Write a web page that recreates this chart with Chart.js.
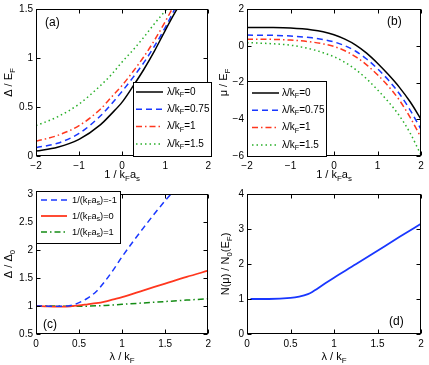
<!DOCTYPE html>
<html>
<head>
<meta charset="utf-8">
<script src="https://cdn.jsdelivr.net/npm/chart.js@4.4.0/dist/chart.umd.min.js"></script>
<style>
  html, body { margin: 0; padding: 0; background: #fff; }
  #page { position: relative; width: 429px; height: 365px; overflow: hidden; }
  canvas { position: absolute; }
</style>
</head>
<body>
<div id="page">
  <canvas id="chartA" width="215" height="185" style="left:0;top:0"></canvas>
  <canvas id="chartB" width="215" height="185" style="left:214px;top:0"></canvas>
  <canvas id="chartC" width="215" height="180" style="left:0;top:185px"></canvas>
  <canvas id="chartD" width="215" height="180" style="left:214px;top:185px"></canvas>
</div>
<script>
// x values for panels (a) and (b): 1/(kF as)
const invKa = [-2, -1.5, -1, -0.5, -0.25, 0, 0.25, 0.5, 0.75, 1, 1.25, 1.5, 1.75, 2];
const lambdas = ["0", "0.75", "1", "1.5"];

// (a) gap / EF
const gapL0   = [0.05, 0.09, 0.17, 0.32, 0.43, 0.55, 0.71, 0.88, 1.07, 1.28, 1.48, 1.66, 1.84, 2.02];
const gapL075 = [0.085, 0.13, 0.23, 0.41, 0.53, 0.66, 0.8, 0.95, 1.12, 1.31, 1.52, 1.7, 1.88, 2.05];
const gapL1   = [0.15, 0.21, 0.31, 0.48, 0.6, 0.72, 0.86, 1.01, 1.18, 1.37, 1.57, 1.75, 1.92, 2.1];
const gapL15  = [0.31, 0.4, 0.53, 0.72, 0.83, 0.96, 1.08, 1.21, 1.35, 1.48, 1.62, 1.76, 1.9, 2.05];

// (b) mu / EF
const muL0   = [1.0, 0.99, 0.96, 0.86, 0.76, 0.6, 0.36, 0.04, -0.4, -0.95, -1.57, -2.25, -3.05, -4.0];
const muL075 = [0.58, 0.57, 0.53, 0.43, 0.34, 0.21, 0.0, -0.3, -0.72, -1.25, -1.87, -2.6, -3.5, -4.55];
const muL1   = [0.36, 0.35, 0.31, 0.2, 0.1, -0.04, -0.27, -0.6, -1.04, -1.58, -2.2, -2.95, -3.9, -5.0];
const muL15  = [0.17, 0.12, 0.03, -0.2, -0.38, -0.6, -0.9, -1.3, -1.8, -2.4, -3.05, -3.8, -4.75, -5.95];

// (c) gap ratio vs lambda/kF
const lamC = [0, 0.1, 0.2, 0.3, 0.4, 0.5, 0.6, 0.7, 0.8, 0.9, 1, 1.25, 1.5, 1.75, 2];
const invKaC = ["-1", "0", "1"];
const ratioBCS = [1, 1, 0.995, 0.995, 1.01, 1.06, 1.14, 1.26, 1.44, 1.65, 1.88, 2.4, 2.88, 3.3, 3.7];
const ratioUni = [1, 0.995, 0.99, 0.99, 0.995, 1.01, 1.03, 1.05, 1.08, 1.12, 1.16, 1.28, 1.4, 1.52, 1.63];
const ratioBEC = [1, 1, 1, 0.998, 0.996, 0.996, 0.998, 1.003, 1.01, 1.02, 1.03, 1.055, 1.08, 1.105, 1.13];

// (d) density of states
const lamD = [0.04, 0.25, 0.5, 0.6, 0.7, 0.75, 0.8, 0.9, 1, 1.25, 1.5, 1.75, 2];
const dos = [1.0, 1.0, 1.03, 1.07, 1.14, 1.2, 1.28, 1.45, 1.61, 1.99, 2.38, 2.77, 3.15];

// tick labels
const abXTicks = [-2, -1, 0, 1, 2];
const aYTicks = [0, 0.5, 1, 1.5];
const bYTicks = [-6, -4, -2, 0, 2];
const cdXTicks = [0, 0.5, 1, 1.5, 2];
const cYTicks = [0.5, 1, 1.5, 2, 2.5, 3];
const dYTicks = [0, 1, 2, 3, 4];

const FONT = '"Liberation Sans", Arial, Helvetica, sans-serif';
const BLUE = "rgb(25,55,255)";
const RED = "rgb(255,55,30)";
const GREEN = "rgb(40,175,40)";
const DKGREEN = "rgb(20,140,20)";

Chart.defaults.font.family = FONT;
Chart.defaults.font.size = 10;
Chart.defaults.color = "#000";

function pts(xs, ys) {
  return xs.map((x, i) => ({ x: x, y: ys[i] }));
}

function fmt(v) {
  return v < 0 ? "\u2212" + Math.abs(v) : String(v);
}

// text with subscripts: parts = [[text, isSub], ...]
function drawRich(ctx, parts, x, y, size, center) {
  let w = 0;
  const ws = parts.map(p => {
    ctx.font = (p[1] ? size * 0.72 : size) + "px " + FONT;
    const m = ctx.measureText(p[0]).width;
    w += m;
    return m;
  });
  let cx = center ? x - w / 2 : x;
  parts.forEach((p, i) => {
    ctx.font = (p[1] ? size * 0.72 : size) + "px " + FONT;
    ctx.fillText(p[0], cx, p[1] ? y + size * 0.32 : y);
    cx += ws[i];
  });
}

const matlabFrame = {
  id: "matlabFrame",
  afterDraw(chart, args, o) {
    const ctx = chart.ctx, a = chart.chartArea;
    const xs = chart.scales.x, ys = chart.scales.y;
    ctx.save();
    ctx.strokeStyle = "#000";
    ctx.lineWidth = 1;
    ctx.setLineDash([]);
    const L = Math.round(a.left) + 0.5, R = Math.round(a.right) - 0.5;
    const T = Math.round(a.top) + 0.5, B = Math.round(a.bottom) - 0.5;
    ctx.strokeRect(L, T, R - L, B - T);
    ctx.beginPath();
    xs.ticks.forEach(t => {
      const px = Math.round(xs.getPixelForValue(t.value)) + 0.5;
      ctx.moveTo(px, B); ctx.lineTo(px, B - 4);
      ctx.moveTo(px, T); ctx.lineTo(px, T + 4);
    });
    ys.ticks.forEach(t => {
      const py = Math.round(ys.getPixelForValue(t.value)) + 0.5;
      ctx.moveTo(L, py); ctx.lineTo(L + 4, py);
      ctx.moveTo(R, py); ctx.lineTo(R - 4, py);
    });
    ctx.stroke();

    ctx.fillStyle = "#000";
    ctx.textBaseline = "middle";
    ctx.textAlign = "left";
    const cxA = (a.left + a.right) / 2, cyA = (a.top + a.bottom) / 2;
    drawRich(ctx, o.xLabel, cxA, o.xLabelY, 11, true);
    ctx.save();
    ctx.translate(o.yLabelX, cyA);
    ctx.rotate(-Math.PI / 2);
    drawRich(ctx, o.yLabel, 0, 0, 11, true);
    ctx.restore();

    if (o.legend) {
      const lg = o.legend;
      ctx.fillStyle = "#fff";
      ctx.fillRect(lg.x, lg.y, lg.w, lg.h);
      ctx.strokeStyle = "#000";
      ctx.strokeRect(lg.x + 0.5, lg.y + 0.5, lg.w - 1, lg.h - 1);
      lg.rows.forEach((row, i) => {
        const ds = chart.data.datasets[i];
        const y = lg.rowY + i * lg.step;
        ctx.strokeStyle = ds.borderColor;
        ctx.lineWidth = ds.borderWidth;
        ctx.setLineDash(ds.borderDash || []);
        ctx.beginPath();
        ctx.moveTo(lg.s0, y);
        ctx.lineTo(lg.s1, y);
        ctx.stroke();
        ctx.setLineDash([]);
        ctx.fillStyle = "#000";
        drawRich(ctx, row, lg.tx, y, lg.size || 10, false);
      });
      ctx.lineWidth = 1;
    }

    ctx.fillStyle = "#000";
    ctx.font = "12px " + FONT;
    ctx.fillText(o.tag[0], o.tag[1], o.tag[2]);
    ctx.restore();
  }
};

function panel(id, o) {
  return new Chart(document.getElementById(id), {
    type: "line",
    data: { datasets: o.datasets },
    options: {
      responsive: false,
      animation: false,
      devicePixelRatio: 1,
      layout: { padding: o.padding },
      elements: { point: { radius: 0 }, line: { cubicInterpolationMode: "monotone" } },
      plugins: { legend: { display: false }, tooltip: { enabled: false }, matlabFrame: o.frame },
      scales: {
        x: {
          type: "linear", min: o.xMin, max: o.xMax,
          grid: { display: false, drawTicks: false }, border: { display: false },
          ticks: { padding: 4, maxRotation: 0, autoSkip: false, callback: fmt },
          afterBuildTicks: s => { s.ticks = o.xTicks.map(v => ({ value: v })); },
          afterFit: s => { s.height = o.xHeight; }
        },
        y: {
          type: "linear", min: o.yMin, max: o.yMax,
          grid: { display: false, drawTicks: false }, border: { display: false },
          ticks: { padding: 3, autoSkip: false, callback: fmt },
          afterBuildTicks: s => { s.ticks = o.yTicks.map(v => ({ value: v })); },
          afterFit: s => { s.width = o.yWidth; }
        }
      }
    },
    plugins: [matlabFrame]
  });
}

function line(xs, ys, color, dash, width) {
  return { data: pts(xs, ys), borderColor: color, borderDash: dash, borderWidth: width || 1.5, fill: false };
}

const lamRows = lambdas.map(l => [["\u03bb/k", 0], ["F", 1], ["=" + l, 0]]);
const kaRows = invKaC.map(v => [["1/(k", 0], ["F", 1], ["a", 0], ["s", 1], [")=" + v, 0]]);

panel("chartA", {
  xMin: -2, xMax: 2, yMin: 0, yMax: 1.5, xTicks: abXTicks, yTicks: aYTicks,
  yWidth: 36, xHeight: 29, padding: { left: 0, top: 9, right: 4, bottom: 0 },
  datasets: [
    line(invKa, gapL0, "#000", []),
    line(invKa, gapL075, BLUE, [6, 4]),
    line(invKa, gapL1, RED, [6, 3, 1.5, 3]),
    line(invKa, gapL15, GREEN, [1.5, 3])
  ],
  frame: {
    xLabel: [["1 / k", 0], ["F", 1], ["a", 0], ["s", 1]], xLabelY: 175,
    yLabel: [["\u0394 / E", 0], ["F", 1]], yLabelX: 9,
    tag: ["(a)", 45, 23],
    legend: { x: 133, y: 82, w: 79, h: 75, rowY: 92, step: 17.3, s0: 136, s1: 163, tx: 167, rows: lamRows }
  }
});

panel("chartB", {
  xMin: -2, xMax: 2, yMin: -6, yMax: 2, xTicks: abXTicks, yTicks: bYTicks,
  yWidth: 33, xHeight: 29, padding: { left: 0, top: 9, right: 8, bottom: 0 },
  datasets: [
    line(invKa, muL0, "#000", []),
    line(invKa, muL075, BLUE, [6, 4]),
    line(invKa, muL1, RED, [6, 3, 1.5, 3]),
    line(invKa, muL15, GREEN, [1.5, 3])
  ],
  frame: {
    xLabel: [["1 / k", 0], ["F", 1], ["a", 0], ["s", 1]], xLabelY: 175,
    yLabel: [["\u03bc / E", 0], ["F", 1]], yLabelX: 10,
    tag: ["(b)", 173, 22],
    legend: { x: 33, y: 81, w: 80, h: 76, rowY: 93, step: 17.3, s0: 38, s1: 65, tx: 68, rows: lamRows }
  }
});

panel("chartC", {
  xMin: 0, xMax: 2, yMin: 0.5, yMax: 3, xTicks: cdXTicks, yTicks: cYTicks,
  yWidth: 36, xHeight: 31, padding: { left: 0, top: 6, right: 4, bottom: 0 },
  datasets: [
    line(lamC, ratioBCS, BLUE, [6, 4]),
    line(lamC, ratioUni, RED, [], 1.8),
    line(lamC, ratioBEC, DKGREEN, [6, 3, 1.5, 3])
  ],
  frame: {
    xLabel: [["\u03bb / k", 0], ["F", 1]], xLabelY: 172,
    yLabel: [["\u0394 / \u0394", 0], ["0", 1]], yLabelX: 9,
    tag: ["(c)", 43, 140],
    legend: { x: 36, y: 6, w: 85, h: 53, rowY: 15, step: 16, s0: 41, s1: 67, tx: 72, size: 9.3, rows: kaRows }
  }
});

panel("chartD", {
  xMin: 0, xMax: 2, yMin: 0, yMax: 4, xTicks: cdXTicks, yTicks: dYTicks,
  yWidth: 33, xHeight: 31, padding: { left: 0, top: 6, right: 8, bottom: 0 },
  datasets: [
    line(lamD, dos, BLUE, [], 1.8)
  ],
  frame: {
    xLabel: [["\u03bb / k", 0], ["F", 1]], xLabelY: 172,
    yLabel: [["N(\u03bc) / N", 0], ["0", 1], ["(E", 0], ["F", 1], [")", 0]], yLabelX: 12,
    tag: ["(d)", 175, 137]
  }
});
</script>
</body>
</html>
